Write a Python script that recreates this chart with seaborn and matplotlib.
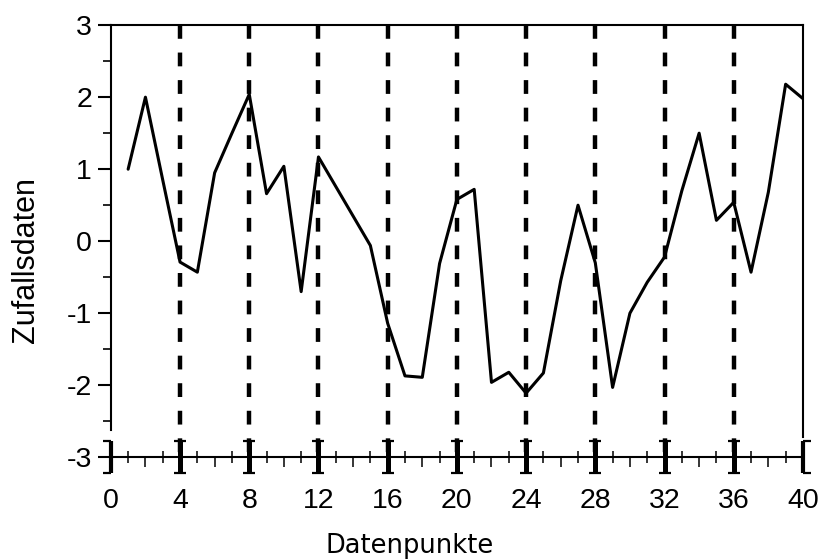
import numpy as np
import pandas as pd
import seaborn as sns
import matplotlib
matplotlib.use("Agg")
import matplotlib.pyplot as plt

# Zufallsdaten
punkte = list(range(1, 41))
werte = [1.00, 2.00, 0.85, -0.29, -0.43, 0.95, 1.50, 2.04, 0.66, 1.04,
         -0.70, 1.17, 0.76, 0.35, -0.06, -1.14, -1.87, -1.89, -0.31, 0.58,
         0.72, -1.96, -1.82, -2.11, -1.83, -0.55, 0.50, -0.30, -2.03, -1.00,
         -0.57, -0.22, 0.70, 1.50, 0.29, 0.54, -0.43, 0.68, 2.18, 1.98]

x_major = list(range(0, 41, 4))
x_inner = x_major[1:-1]
x_mid = [v for v in range(2, 40, 4)]
x_odd = [v for v in range(1, 40, 2)]
y_major = [-3, -2, -1, 0, 1, 2, 3]
y_minor = [-2.5, -1.5, -0.5, 0.5, 1.5, 2.5]

df = pd.DataFrame({"Datenpunkte": punkte, "Zufallsdaten": werte})

sns.set_style("ticks")
plt.rcParams["font.family"] = ["Liberation Sans", "DejaVu Sans"]
plt.rcParams["axes.unicode_minus"] = False
for key in ["text.color", "axes.labelcolor", "xtick.color", "ytick.color",
            "axes.edgecolor"]:
    plt.rcParams[key] = "black"

fig = plt.figure(figsize=(8.21, 5.59), dpi=100)
ax = fig.add_axes([0.135, 0.182, 0.843, 0.773])

# vertical dashed separators, drawn from top down
for xv in x_inner:
    ax.plot([xv, xv], [3, -3], color="black", lw=3.2, dashes=(3.1, 3.1),
            solid_capstyle="butt", dash_capstyle="butt", zorder=1)

sns.lineplot(data=df, x="Datenpunkte", y="Zufallsdaten", color="black",
             lw=2.2, ax=ax, zorder=3)

ax.set_xlim(0, 40)
ax.set_ylim(-3, 3)

for side in ["left", "right", "top", "bottom"]:
    ax.spines[side].set_linewidth(1.5)
ax.spines["left"].set_bounds(-2.62, 3)
ax.spines["right"].set_bounds(-2.72, 3)

# x axis: I-beams at the labelled positions, brackets at the ends
ax.errorbar(x_inner, [-3] * len(x_inner), yerr=0.22, fmt="none",
            ecolor="black", elinewidth=3.6, capsize=4.5, capthick=1.6,
            clip_on=False, zorder=5)
ends = [x_major[0], x_major[-1]]
ax.errorbar(ends, [-3, -3], yerr=0.22, fmt="none", ecolor="black",
            elinewidth=3.0, capsize=0, clip_on=False, zorder=5)
ax.plot([ends[0]] * 2, [-3.22, -2.78], ls="none", marker=0, ms=6,
        mew=1.6, color="black", clip_on=False, zorder=5)
ax.plot([ends[1]] * 2, [-3.22, -2.78], ls="none", marker=1, ms=6,
        mew=1.6, color="black", clip_on=False, zorder=5)

ax.set_xticks(x_major)
ax.set_xticks(x_odd, minor=True)
ax.tick_params(axis="x", which="major", length=0, pad=22, labelsize=20.5)
ax.tick_params(axis="x", which="minor", direction="inout", length=9,
               width=1.1)
sec = ax.secondary_xaxis(0)
sec.set_xticks(x_mid, labels=[""] * len(x_mid))
sec.tick_params(direction="out", length=7, width=1.1, color="black")
sec.spines["bottom"].set_visible(False)

ax.set_yticks(y_major)
ax.set_yticks(y_minor, minor=True)
ax.tick_params(axis="y", which="major", direction="out", length=9.5,
               width=1.5, pad=4, labelsize=20.5)
ax.tick_params(axis="y", which="minor", direction="out", length=5.8,
               width=1.2)

ax.set_xlabel("Datenpunkte", fontsize=18.5, family="DejaVu Sans",
              va="center")
ax.xaxis.set_label_coords(0.432, -0.205)
ax.set_ylabel("Zufallsdaten", fontsize=22, va="center")
ax.yaxis.set_label_coords(-0.123, 0.456)

fig.savefig("out.png", dpi=100)
